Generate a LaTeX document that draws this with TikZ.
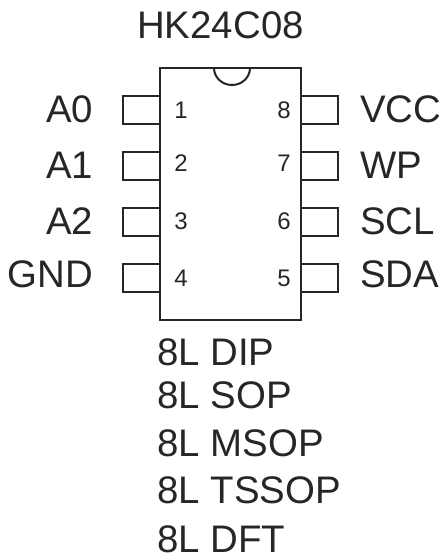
\documentclass[tikz,border=0pt]{standalone}
\usepackage{fontspec}
\setmainfont{Liberation Sans}
\tikzset{
 big/.style={inner sep=0pt,text=black!85,font=\fontsize{38.4}{40}\selectfont},
 num/.style={inner sep=0pt,text=black!85,font=\fontsize{24}{26}\selectfont},
 pinbox/.style={draw=black!85,line width=2pt},
}
\begin{document}
\begin{tikzpicture}[x=1pt,y=-1pt]
\useasboundingbox (0,0) rectangle (442,555);
\coordinate (tl) at (160,68);
\coordinate (br) at (300.5,320);
\draw[pinbox] (tl) rectangle (br);
\draw[pinbox] (214,68) arc[start angle=180,end angle=0,x radius=18,y radius=17];
\foreach \i/\y/\b in {1/110/118,2/166/171,3/222/229,4/277.5/286}{
 \draw[pinbox] (160,\y-14) -- (122.5,\y-14) -- (122.5,\y+14) -- (160,\y+14);
 \node[num,anchor=base] at (181,\b) {\i};
}
\foreach \i/\y/\b in {8/110/118,7/166/171,6/222/229,5/277.5/286}{
 \draw[pinbox] (300.5,\y-14) -- (338,\y-14) -- (338,\y+14) -- (300.5,\y+14);
 \node[num,anchor=base] at (284,\b) {\i};
}
\node[big,anchor=base] (t) at (220.5,38) {HK24C08};
\node[big,anchor=base east] (a0) at (93.5,122) {A0};
\node[big,anchor=base east] (a1) at (93.5,178) {A1};
\node[big,anchor=base east] (a2) at (93.5,234) {A2};
\node[big,anchor=base east] (g) at (93.5,287) {GND};
\node[big,anchor=base west] (v) at (360,122) {VCC};
\node[big,anchor=base west] (w) at (360,178) {WP};
\node[big,anchor=base west] (s) at (360,234) {SCL};
\node[big,anchor=base west] (d) at (360,287) {SDA};
\node[big,anchor=base west] (l1) at (157,365) {8L DIP};
\node[big,anchor=base west] (l2) at (157,408) {8L SOP};
\node[big,anchor=base west] (l3) at (157,456) {8L MSOP};
\node[big,anchor=base west] (l4) at (157,503) {8L TSSOP};
\node[big,anchor=base west] (l5) at (157,552) {8L DFT};
\end{tikzpicture}
\end{document}
